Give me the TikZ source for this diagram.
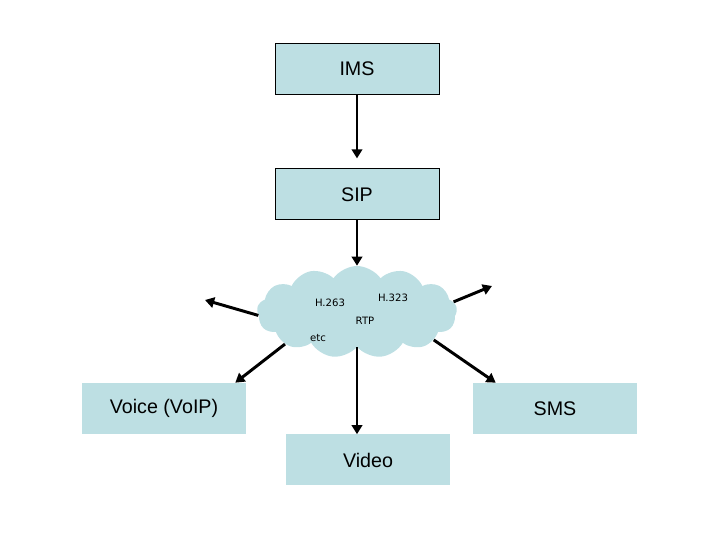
\documentclass[tikz,border=0pt]{standalone}
\usepackage{fontspec}
\setmainfont{Liberation Sans}
\newfontfamily\cloudfont{DejaVu Sans}
\usetikzlibrary{positioning,shapes.symbols,arrows.meta}

\definecolor{boxblue}{RGB}{189,223,227}

\tikzstyle{layer} = [
rectangle,
minimum width=4.1cm,
minimum height=1.275cm,
text centered,
draw=black,
line width=0.6pt,
fill=boxblue,
font=\fontsize{14}{16}\selectfont
]
\tikzstyle{service} = [
rectangle,
minimum width=4.1cm,
minimum height=1.275cm,
text centered,
fill=boxblue,
font=\fontsize{14}{16}\selectfont
]
\tikzstyle{proto} = [
inner sep=0pt,
font=\cloudfont\fontsize{7.2}{8}\selectfont
]
\tikzstyle{arrow} = [
line width=2.1pt,
->,
>={Triangle[length=6.5pt,width=7.5pt]}
]

\begin{document}
\begin{tikzpicture}

\useasboundingbox (0,0) rectangle (18,13.5);

\node (ims) [layer] at (8.925,11.7875) {IMS};

\node (sip) [layer, below=1.85cm of ims] {SIP};

\node (net) [cloud,
cloud puffs=13,
cloud puff arc=110,
fill=boxblue,
minimum width=5cm,
minimum height=2.3cm] at (8.925,5.7) {};

\node (h263) [proto] at ([shift={(-0.675,0.225)}]net.center) {H.263};
\node (h323) [proto] at ([shift={(0.9,0.35)}]net.center) {H.323};
\node (rtp) [proto] at ([shift={(0.2,-0.225)}]net.center) {RTP};
\node (etc) [proto] at ([shift={(-0.975,-0.65)}]net.center) {etc};

\node (voice) [service] at (4.1,3.2875) {Voice (VoIP)};

\node (sms) [service] at (13.875,3.2875) {SMS};

\node (video) [service] at (9.2,2.0) {Video};

\coordinate (outleft) at (5.125,6.0);
\coordinate (outright) at (12.3,6.35);

\draw [arrow, shorten >=0.25cm] (ims) -- (sip);

\draw [arrow] (sip) -- (net);

\draw [arrow] (net.182) -- (outleft);

\draw [arrow] (net.6) -- (outright);

\draw [arrow] (net.204) -- ([xshift=-0.275cm]voice.north east);

\draw [arrow] (net.340) -- ([xshift=0.575cm]sms.north west);

\draw [arrow] (net.south) -- (net.south |- video.north);

\end{tikzpicture}
\end{document}
